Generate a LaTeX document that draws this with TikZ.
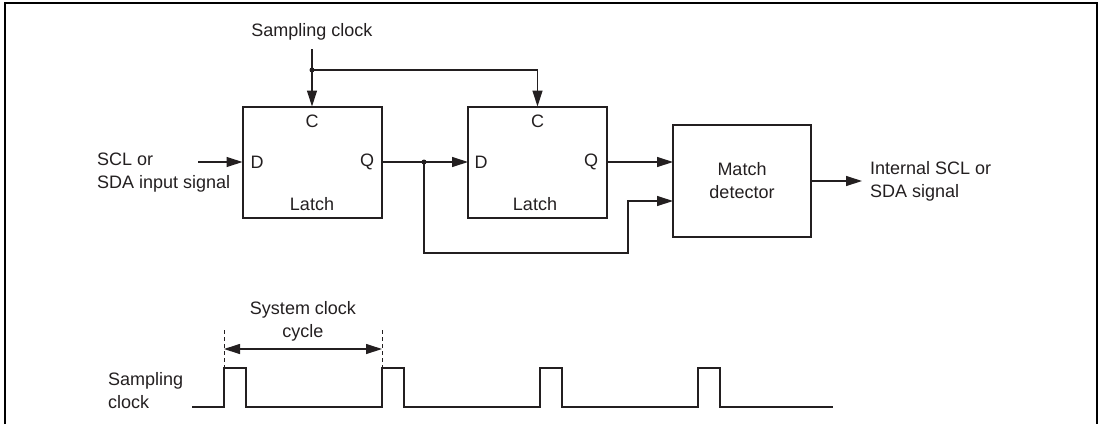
\documentclass[tikz,border=0pt]{standalone}
\usepackage{fontspec}
\setmainfont{Liberation Sans}
\usetikzlibrary{arrows.meta}
\definecolor{ink}{HTML}{231F20}
\begin{document}
\begin{tikzpicture}[x=1pt,y=-1pt,
  every node/.style={text=ink, font=\fontsize{18}{23}\selectfont, inner sep=0pt},
  box/.style={draw=ink, line width=2pt, minimum width=139pt, minimum height=111pt, outer sep=0pt},
  conn/.style={draw=ink, line width=1.2pt, -{Triangle[length=16pt,width=10pt]}},
  wave/.style={draw=ink, line width=2pt},
  dot/.style={circle, fill=ink, minimum size=5pt, inner sep=0pt}]
\useasboundingbox (0,0) rectangle (1103,424);
% frame
\draw[line width=2pt, black] (5,424) -- (5,3) -- (1097,3) -- (1097,424);

% boxes
\node[box] (l1) at (312,162) {};
\node[box] (l2) at (537.5,162) {};
\node[box, minimum width=138pt, minimum height=112pt] (md) at (742,181) {};

% box labels
\node (c1) at (312,121) {C};
\node (d1) at (257,162) {D};
\node (q1) at (367,162) {Q};
\node (lt1) at (312,204) {Latch};
\node (c2) at (537.5,121) {C};
\node (d2) at (481,162) {D};
\node (q2) at (591,162) {Q};
\node (lt2) at (535,204) {Latch};
\node[align=center] (mdt) at (742,181) {Match\\detector};

% outer texts
\node (sclk) at (312,32) {Sampling clock};
\node[align=left, anchor=west] (intxt) at (97,172.5) {SCL or\\SDA input signal};
\node[align=left, anchor=west] (outtxt) at (870,181.5) {Internal SCL or\\SDA signal};

% connection points
\coordinate (ctop) at (312,49);
\node[dot] (j1) at (312,70) {};
\coordinate (inp) at (198,162);
\node[dot] (j2) at (424,162) {};
\coordinate (fb) at (628,253);
\coordinate (mdin2) at (673,201);
\coordinate (out) at (862,181);

\draw[conn] (ctop) -- (l1.north);
\draw[conn] (j1.center) -| (l2.north);
\draw[conn] (inp) -- (l1.west);
\draw[conn] (l1.east) -- (l2.west);
\draw[conn] (l2.east) -- (l2.east -| md.west);
\draw[conn] (j2.center) |- (fb) |- (mdin2);
\draw[conn] (md.east) -- (out);

% timing diagram
\node[align=left, anchor=west] (stxt) at (108,390.5) {Sampling\\clock};
\node[align=center] (cyc) at (303,321) {System clock\\cycle};
\coordinate (w0) at (192,407);
\draw[wave] (w0) -- (224,407) -- (224,368) -- (246,368) -- (246,407)
  -- (382,407) -- (382,368) -- (404,368) -- (404,407)
  -- (540,407) -- (540,368) -- (562,368) -- (562,407)
  -- (698,407) -- (698,368) -- (720,368) -- (720,407) -- (833,407);
\coordinate (m1t) at (224,330);
\coordinate (m1b) at (224,368);
\coordinate (m2t) at (382,330);
\coordinate (m2b) at (382,368);
\draw[draw=ink, line width=0.9pt, dash pattern=on 4pt off 3pt] (m1t) -- (m1b);
\draw[draw=ink, line width=0.9pt, dash pattern=on 4pt off 3pt] (m2t) -- (m2b);
\coordinate (a1) at (224,349);
\coordinate (a2) at (382,349);
\draw[draw=ink, line width=1.2pt, {Triangle[length=16pt,width=10pt]}-{Triangle[length=16pt,width=10pt]}] (a1) -- (a2);
\end{tikzpicture}
\end{document}
